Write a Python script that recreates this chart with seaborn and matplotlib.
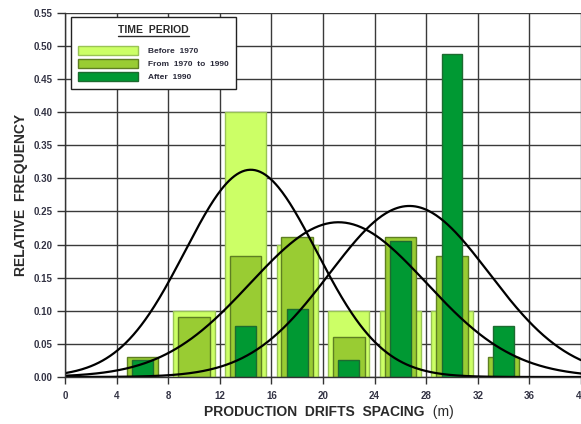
import numpy as np
import pandas as pd
import seaborn as sns
import matplotlib.pyplot as plt
from matplotlib.patches import Patch
from matplotlib.lines import Line2D
from matplotlib.transforms import IdentityTransform

# --- data ---
bin_centers = [6, 10, 14, 18, 22, 26, 30, 34]
before_1970 = [0.0, 0.10, 0.40, 0.20, 0.10, 0.10, 0.10, 0.0]
from_1970_1990 = [0.030, 0.091, 0.182, 0.212, 0.061, 0.212, 0.182, 0.030]
after_1990 = [0.026, 0.0, 0.077, 0.103, 0.026, 0.205, 0.487, 0.077]

period_labels = ["Before  1970", "From  1970  to  1990", "After  1990"]
period_colors = ["#ccff66", "#99cc33", "#009933"]
edge_colors = ["#99c455", "#5e7f22", "#1d6b30"]
bar_widths = [0.8, 0.61, 0.4]

# fitted normal curves (mean, std) for each period, bin width 4 m
curve_means = [14.4, 21.2, 26.7]
curve_sds = [5.1, 6.83, 6.18]
bin_width = 4

sns.set_theme(style="white")
plt.rcParams['font.family'] = ['Liberation Sans', 'DejaVu Sans']

fig = plt.figure(figsize=(5.81, 4.24), dpi=100)
ax = fig.add_axes([65 / 581, 1 - 377 / 424, 516 / 581, (377 - 12.7) / 424])

series = [before_1970, from_1970_1990, after_1990]
for vals, col, ec, w in zip(series, period_colors, edge_colors, bar_widths):
    df = pd.DataFrame({"x": bin_centers, "y": vals})
    df = df[df["y"] > 0]
    sns.barplot(data=df, x="x", y="y", native_scale=True, width=w,
                color=col, edgecolor=ec, linewidth=1, saturation=1,
                errorbar=None, ax=ax)

xs = np.linspace(0, 40, 400)
for m, s in zip(curve_means, curve_sds):
    ys = bin_width / (s * np.sqrt(2 * np.pi)) * np.exp(-0.5 * ((xs - m) / s) ** 2)
    sns.lineplot(x=xs, y=ys, color="black", linewidth=1.6, ax=ax)

ax.set_xlim(0, 40)
ax.set_ylim(0, 0.55)
ax.set_xticks(np.arange(0, 41, 4))
ax.set_yticks(np.arange(0, 0.551, 0.05))
ax.set_yticklabels([f"{v:.2f}" for v in np.arange(0, 0.551, 0.05)])
ax.grid(True, color="#3a3a3a", linewidth=1)
ax.set_axisbelow(True)
for side in ["top", "right"]:
    ax.spines[side].set_visible(False)
for side in ["left", "bottom"]:
    ax.spines[side].set_color("#333333")
    ax.spines[side].set_linewidth(1)
ax.tick_params(axis="y", length=6, width=1, color="#333333", pad=3,
               labelsize=7, labelcolor="#333344", left=True)
ax.tick_params(axis="x", length=5, width=1, color="#333333", pad=5,
               labelsize=7, labelcolor="#333344", bottom=True)
for lbl in ax.get_xticklabels() + ax.get_yticklabels():
    lbl.set_fontweight("bold")

ax.set_xlabel("")
ax.set_ylabel("RELATIVE  FREQUENCY", fontsize=10, fontweight="bold",
              color="#2a2a2a", labelpad=4)
split = (425 - 65) / 516
ax.text(split, -0.095, "PRODUCTION  DRIFTS  SPACING", transform=ax.transAxes,
        ha="right", va="center", fontsize=10, fontweight="bold", color="#2a2a2a")
ax.text(split, -0.095, "  (m)", transform=ax.transAxes,
        ha="left", va="center", fontsize=10, color="#2a2a2a")

handles = [Patch(facecolor=c, edgecolor=e, linewidth=1)
           for c, e in zip(period_colors, edge_colors)]
leg = ax.legend(handles, period_labels, title="TIME  PERIOD",
                loc="upper left", bbox_to_anchor=(0.0116, 0.987),
                borderaxespad=0, fancybox=False, framealpha=1,
                edgecolor="#222222", fontsize=6.0, title_fontsize=7.5,
                handlelength=7.1, handleheight=1.25, handletextpad=1.2,
                labelspacing=0.45, borderpad=0.9)
leg._legend_box.sep = 8
leg.get_frame().set_linewidth(1)
leg.get_title().set_fontweight("bold")
leg.get_title().set_color("#2a2a2a")
for t in leg.get_texts():
    t.set_fontweight("bold")
    t.set_color("#2a2a3a")

# underline the legend title
fig.canvas.draw()
bb = leg.get_title().get_window_extent()
fig.add_artist(Line2D([bb.x0, bb.x1], [bb.y0 - 1, bb.y0 - 1],
                      transform=IdentityTransform(), color="#2a2a2a", linewidth=1))

fig.savefig("out.png", dpi=100)
